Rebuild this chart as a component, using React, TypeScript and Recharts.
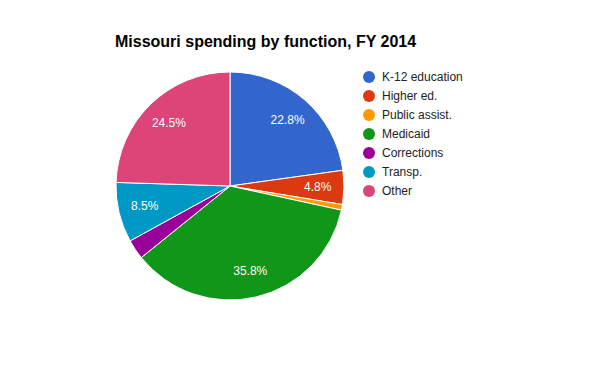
import { PieChart, Pie, Cell } from 'recharts'

// ── Data ──────────────────────────────────────────────────────────────────────

const categories = ['K-12 education', 'Higher ed.', 'Public assist.', 'Medicaid', 'Corrections', 'Transp.', 'Other']
const shares = [22.8, 4.8, 0.8, 35.8, 2.8, 8.5, 24.5]
const colors = ['#3366cc', '#dc3912', '#ff9900', '#109618', '#990099', '#0099c6', '#dd4477']

const data = categories.map((name, i) => ({ name, value: shares[i] }))

const RAD = Math.PI / 180
const FONT = "Arial, 'Liberation Sans', sans-serif"

// ── Slice labels ──────────────────────────────────────────────────────────────

function SliceLabel(props: any) {
  const { cx, cy, midAngle, outerRadius, percent } = props
  if (percent < 0.04) return null
  const r = outerRadius * 0.77
  const x = cx + r * Math.cos(-midAngle * RAD)
  const y = cy + r * Math.sin(-midAngle * RAD)
  return (
    <text x={x} y={y} fill="#ffffff" textAnchor="middle" dominantBaseline="central" fontSize={12} fontFamily={FONT}>
      {`${(percent * 100).toFixed(1)}%`}
    </text>
  )
}

// ── Legend ────────────────────────────────────────────────────────────────────

function LegendList() {
  return (
    <div style={{ position: 'absolute', left: 363, top: 67, fontFamily: FONT, fontSize: 12, color: '#222222' }}>
      {categories.map((c, i) => (
        <div key={c} style={{ display: 'flex', alignItems: 'center', height: 19 }}>
          <span
            style={{
              display: 'inline-block',
              width: 12,
              height: 12,
              borderRadius: 6,
              background: colors[i],
              marginRight: 7,
            }}
          />
          <span>{c}</span>
        </div>
      ))}
    </div>
  )
}

// ── App ───────────────────────────────────────────────────────────────────────

export default function App() {
  return (
    <div style={{ position: 'absolute', left: 0, top: 0, width: 600, height: 371, background: '#fff' }}>
      <PieChart width={600} height={371} margin={{ top: 0, right: 0, bottom: 0, left: 0 }}>
        <Pie
          data={data}
          dataKey="value"
          nameKey="name"
          cx={230}
          cy={186}
          outerRadius={114}
          startAngle={90}
          endAngle={-270}
          stroke="#ffffff"
          strokeWidth={1}
          label={SliceLabel}
          labelLine={false}
          isAnimationActive={false}
        >
          {data.map((_, i) => (
            <Cell key={i} fill={colors[i]} />
          ))}
        </Pie>
      </PieChart>
      <div
        style={{
          position: 'absolute',
          left: 115,
          top: 33,
          fontFamily: FONT,
          fontWeight: 'bold',
          fontSize: 16,
          color: '#000',
          whiteSpace: 'nowrap',
        }}
      >
        Missouri spending by function, FY 2014
      </div>
      <LegendList />
    </div>
  )
}
